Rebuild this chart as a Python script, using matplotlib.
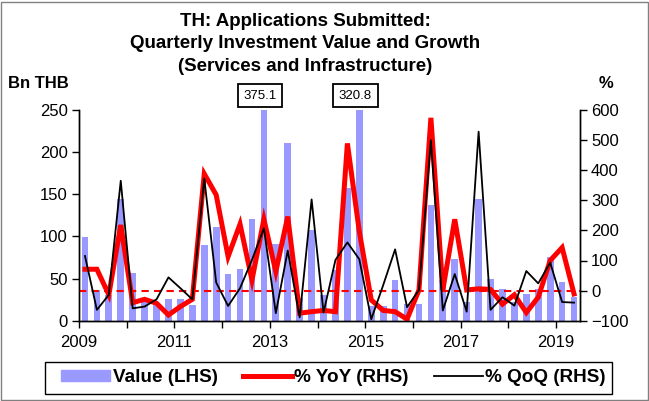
import matplotlib
matplotlib.use("Agg")
import matplotlib.pyplot as plt
import matplotlib.transforms as mtransforms
from matplotlib.patches import Patch, Rectangle
from matplotlib.lines import Line2D

plt.rcParams['font.family'] = ['Liberation Sans', 'DejaVu Sans']

# quarterly data, 2009Q1 .. 2019Q2
start_year = 2009
value_bn = [99, 36, 31, 144, 57, 26, 19, 26, 26, 19,
            90, 111, 55, 61, 121, 375.1, 91, 211, 27, 108,
            30, 60, 157, 320.8, 17, 18, 48, 20, 20, 137,
            48, 73, 22, 144, 50, 38, 22, 32, 38, 76,
            46, 28]
yoy_pct = [71, 71, -14, 218, -40, -29, -42, -81, -53, -29,
           388, 318, 113, 221, 35, 237, 63, 246, -75, -70,
           -66, -70, 489, 196, -31, -66, -70, -95, 2, 574,
           2, 237, 2, 6, 4, -45, -14, -73, -22, 100,
           143, -11]
qoq_pct = [115, -64, -14, 365, -59, -53, -29, 44, 8, -29,
           373, 27, -51, 8, 102, 207, -75, 133, -89, 303,
           -73, 102, 160, 104, -95, 18, 137, -55, 2, 500,
           -66, 55, -70, 528, -64, -22, -50, 65, 24, 93,
           -38, -40]
callouts = {15: "375.1", 23: "320.8"}

n = len(value_bn)
xs = [start_year + (i + 0.5) / 4 for i in range(n)]

W, H = 649, 401
fig = plt.figure(figsize=(W / 100, H / 100), dpi=100)
ax = fig.add_axes([79 / W, 1 - 320.7 / H, 501 / W, 210.7 / H])
ax2 = ax.twinx()

bar_col = "#9999FF"
ax.bar(xs, value_bn, width=0.14, color=bar_col, zorder=2)
ax.set_ylim(0, 250)
ax.set_yticks(range(0, 251, 50))
ax.set_xlim(start_year, start_year + n / 4)
years = list(range(2009, 2020))
ax.set_xticks(years)
ax.set_xticklabels([str(y) if (y - 2009) % 2 == 0 else "" for y in years])

ax2.axhline(0, color="red", lw=1.5, ls=(0, (3.5, 2.5)), zorder=1)
ax2.plot(xs, yoy_pct, color="red", lw=3.6, solid_joinstyle="miter")
ax2.plot(xs, qoq_pct, color="black", lw=1.3)
ax2.set_ylim(-100, 600)
ax2.set_yticks(range(-100, 601, 100))

for a in (ax, ax2):
    a.spines["top"].set_visible(False)
    for s in a.spines.values():
        s.set_linewidth(1.0)
    a.tick_params(direction="out", length=5, width=1, labelsize=12, pad=3)

ax.tick_params(axis="x", pad=5)

trans = mtransforms.blended_transform_factory(ax.transData, ax.transAxes)
for i, txt in callouts.items():
    ax.text(xs[i] - 0.08, 1.068, txt, transform=trans, ha="center", va="center",
            fontsize=9.5,
            bbox=dict(boxstyle="square,pad=0.42", fc="white", ec="black", lw=1.3))

fig.text(0.47, 1 - 13 / H, "TH: Applications Submitted:\nQuarterly Investment Value and Growth\n(Services and Infrastructure)",
         ha="center", va="top", fontsize=13.5, fontweight="bold", linespacing=1.42)
fig.text(8 / W, 1 - 84 / H, "Bn THB", ha="left", va="center", fontsize=12, fontweight="bold")
fig.text(606 / W, 1 - 84 / H, "%", ha="center", va="center", fontsize=12, fontweight="bold")

# legend, with its frame drawn separately (wider inner margins)
handles = [Patch(color=bar_col),
           Line2D([], [], color="red", lw=3.6),
           Line2D([], [], color="black", lw=1.3)]
labels = ["Value (LHS)", "% YoY (RHS)", "% QoQ (RHS)"]
fig.legend(handles, labels, loc="center", bbox_to_anchor=(0.514, 1 - 378 / H), ncol=3,
           frameon=False, handlelength=2.6, handleheight=0.5, handletextpad=0.15,
           columnspacing=1.3, prop={"weight": "bold", "size": 13.6})
fig.patches.append(Rectangle((45 / W, 1 - 394 / H), 567 / W, 32 / H, transform=fig.transFigure,
                             fill=False, ec="black", lw=1.0))

fig.patches.append(Rectangle((0.002, 0.002), 0.996, 0.994, transform=fig.transFigure,
                             fill=False, ec="#808080", lw=1.0))

fig.savefig("out.png", dpi=100)
